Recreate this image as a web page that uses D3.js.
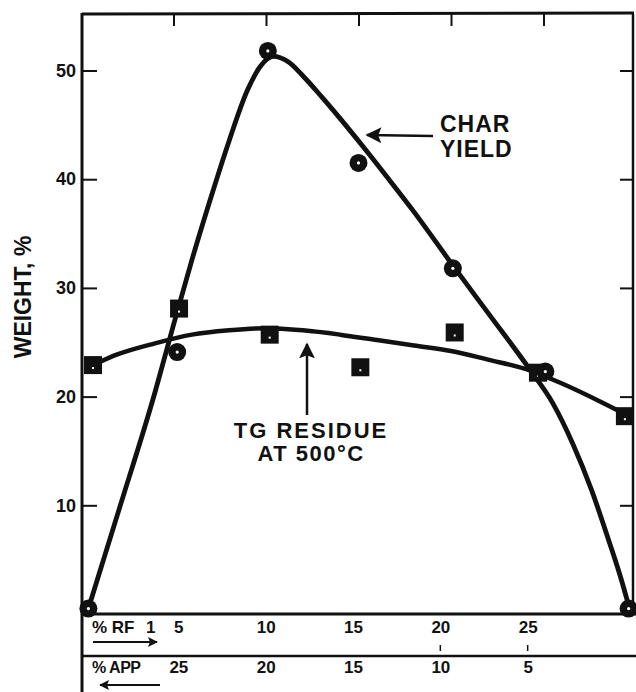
<!DOCTYPE html>
<html>
<head>
<meta charset="utf-8">
<script src="https://cdn.jsdelivr.net/npm/d3@7"></script>
<style>
  body { margin: 0; background: #fff; }
  svg text { font-family: "Liberation Sans", Arial, sans-serif; font-weight: bold; fill: #111; }
</style>
</head>
<body>
<div id="chart"></div>
<script>
// measured points (circles = char yield, squares = TG residue)
var charX = [0.4, 5.2, 10.1, 15.0, 20.1, 25.1, 29.6]
var charY = [0.5, 24.1, 51.8, 41.5, 31.8, 22.3, 0.5]
var tgX = [0.65, 5.3, 10.2, 15.1, 20.2, 24.7, 29.4]
var tgY = [22.9, 28.1, 25.7, 22.7, 25.9, 22.2, 18.2]

// hand drawn fitted curves
var charFitX = [0.4, 2, 4, 5, 6, 7, 8, 9, 9.7, 10.4, 11.2, 12, 13, 14, 15.2, 16.5, 18, 20, 22, 24.3, 25.5, 26.6, 27.6, 28.5, 29.2, 29.6]
var charFitY = [0.5, 9.3, 20.4, 26.6, 32.6, 38.2, 43.5, 48.2, 50.4, 51.3, 50.8, 49.5, 47.6, 45.6, 43.1, 40.3, 37.0, 32.3, 27.7, 22.4, 19.4, 15.6, 11.4, 6.9, 3.2, 0.8]
var tgFitX = [0.65, 2, 4, 6, 8, 10, 12, 14, 16, 18, 20, 22, 24.3, 26, 28, 29.4]
var tgFitY = [22.9, 23.9, 24.9, 25.7, 26.1, 26.3, 26.1, 25.7, 25.2, 24.7, 24.2, 23.4, 22.4, 21.2, 19.6, 18.4]

var yTicks = [10, 20, 30, 40, 50]
var xTicks = [5, 10, 15, 20, 25]
var rfLabels = ["5", "10", "15", "20", "25"]
var appLabels = ["25", "20", "15", "10", "5"]

var W = 636, H = 692
var pl = 82, pr = 633, pt = 14, pb = 614

var svg = d3.select("#chart").append("svg")
  .attr("width", W).attr("height", H)

var x = d3.scaleLinear().domain([0, 30]).range([81, 636])
var y = d3.scaleLinear().domain([0, 55.2]).range([pb, pt])
// the table under the plot was lettered on a slightly narrower spacing
var tableX = d3.scaleLinear().domain([0, 30]).range([91, 615])

// frame
svg.append("line").attr("x1", pl).attr("x2", pl).attr("y1", pt - 1).attr("y2", H)
  .attr("stroke", "#111").attr("stroke-width", 3)
svg.append("line").attr("x1", pl).attr("x2", pr + 1).attr("y1", pt).attr("y2", pt - 1)
  .attr("stroke", "#111").attr("stroke-width", 3)
svg.append("line").attr("x1", pr).attr("x2", pr).attr("y1", pt).attr("y2", pb)
  .attr("stroke", "#111").attr("stroke-width", 2.5)
svg.append("line").attr("x1", pl).attr("x2", W).attr("y1", pb).attr("y2", pb)
  .attr("stroke", "#111").attr("stroke-width", 3)
svg.append("line").attr("x1", pl).attr("x2", W).attr("y1", 656).attr("y2", 656)
  .attr("stroke", "#111").attr("stroke-width", 2.5)

// y axis, ticks inward
var yAxis = svg.append("g")
  .attr("transform", "translate(" + pl + ",0)")
  .call(d3.axisLeft(y).tickValues(yTicks).tickSize(-15).tickPadding(6))
yAxis.select(".domain").remove()
yAxis.selectAll("line").attr("stroke", "#111").attr("stroke-width", 2)
yAxis.selectAll("text").style("font-size", "18px")

// right side ticks
var yAxisR = svg.append("g")
  .attr("transform", "translate(" + pr + ",0)")
  .call(d3.axisRight(y).tickValues(yTicks).tickSize(-13).tickFormat(""))
yAxisR.select(".domain").remove()
yAxisR.selectAll("line").attr("stroke", "#111").attr("stroke-width", 2)

// top ticks
var xTop = svg.append("g")
  .attr("transform", "translate(0," + pt + ")")
  .call(d3.axisTop(x).tickValues(xTicks).tickSize(-12).tickFormat(""))
xTop.select(".domain").remove()
xTop.selectAll("line").attr("stroke", "#111").attr("stroke-width", 2)

// y title
svg.append("text")
  .attr("transform", "translate(31,297) rotate(-90)")
  .attr("text-anchor", "middle")
  .style("font-size", "23px")
  .text("WEIGHT, %")

// curves
var line = d3.line()
  .x(function(d) { return x(d[0]) })
  .y(function(d) { return y(d[1]) })
  .curve(d3.curveMonotoneX)

svg.append("path")
  .datum(tgFitX.map(function(v, i) { return [v, tgFitY[i]] }))
  .attr("d", line)
  .attr("fill", "none").attr("stroke", "#111").attr("stroke-width", 4.5)
  .attr("stroke-linecap", "round")

svg.append("path")
  .datum(charFitX.map(function(v, i) { return [v, charFitY[i]] }))
  .attr("d", line)
  .attr("fill", "none").attr("stroke", "#111").attr("stroke-width", 4.8)
  .attr("stroke-linecap", "round")

// square markers
var sq = 18
svg.selectAll("rect.tg")
  .data(tgX.map(function(v, i) { return [v, tgY[i]] }))
  .enter()
  .append("rect")
    .attr("class", "tg")
    .attr("x", function(d) { return x(d[0]) - sq / 2 })
    .attr("y", function(d) { return y(d[1]) - sq / 2 })
    .attr("width", sq).attr("height", sq)
    .attr("fill", "#111")
svg.selectAll("rect.tgdot")
  .data(tgX.map(function(v, i) { return [v, tgY[i]] }))
  .enter()
  .append("rect")
    .attr("x", function(d) { return x(d[0]) - 1 })
    .attr("y", function(d) { return y(d[1]) + 2 })
    .attr("width", 2).attr("height", 2)
    .attr("fill", "#fff")

// circle markers
svg.selectAll("circle.char")
  .data(charX.map(function(v, i) { return [v, charY[i]] }))
  .enter()
  .append("circle")
    .attr("cx", function(d) { return x(d[0]) })
    .attr("cy", function(d) { return y(d[1]) })
    .attr("r", 9)
    .attr("fill", "#111")
svg.selectAll("circle.chardot")
  .data(charX.map(function(v, i) { return [v, charY[i]] }))
  .enter()
  .append("circle")
    .attr("cx", function(d) { return x(d[0]) })
    .attr("cy", function(d) { return y(d[1]) })
    .attr("r", 1.6)
    .attr("fill", "#fff")

// arrows
var defs = svg.append("defs")
function arrow(x1, y1, x2, y2, w, hs) {
  var id = "h" + Math.round(x1) + "_" + Math.round(y1)
  defs.append("marker")
    .attr("id", id).attr("viewBox", "0 0 10 10")
    .attr("refX", 9).attr("refY", 5)
    .attr("markerWidth", hs).attr("markerHeight", hs)
    .attr("markerUnits", "userSpaceOnUse")
    .attr("orient", "auto")
    .append("path").attr("d", "M0,0 L10,5 L0,10 L2,5 z").attr("fill", "#111")
  svg.append("line")
    .attr("x1", x1).attr("y1", y1).attr("x2", x2).attr("y2", y2)
    .attr("stroke", "#111").attr("stroke-width", w)
    .attr("marker-end", "url(#" + id + ")")
}

arrow(433, 136, 367, 135, 2.5, 16)
arrow(307, 415, 307, 344, 2.5, 16)
arrow(93, 642, 157, 642, 2, 10)
arrow(160, 685, 100, 685, 2, 10)

// annotations
svg.append("text").attr("x", 440).attr("y", 132)
  .style("font-size", "23px").style("letter-spacing", "1px").text("CHAR")
svg.append("text").attr("x", 440).attr("y", 157)
  .style("font-size", "23px").style("letter-spacing", "1px").text("YIELD")
svg.append("text").attr("x", 311).attr("y", 438).attr("text-anchor", "middle")
  .style("font-size", "22px").style("letter-spacing", "2px").text("TG RESIDUE")
svg.append("text").attr("x", 311).attr("y", 461).attr("text-anchor", "middle")
  .style("font-size", "22px").style("letter-spacing", "1.5px").text("AT 500\u00B0C")

// table under the plot
var rfTitle = svg.append("text").attr("x", 92).attr("y", 633).style("font-size", "17px")
rfTitle.append("tspan").text("% RF")
rfTitle.append("tspan").attr("x", 146).text("1")
svg.append("text").attr("x", 92).attr("y", 673)
  .style("font-size", "16px").style("letter-spacing", "-0.5px").text("% APP")

var rfAxis = svg.append("g")
  .attr("transform", "translate(0,621)")
  .call(d3.axisBottom(tableX).tickValues(xTicks).tickSize(0).tickPadding(0)
    .tickFormat(function(d, i) { return rfLabels[i] }))
rfAxis.select(".domain").remove()
rfAxis.selectAll("text").style("font-size", "17px").attr("dy", "0.71em")

var appAxis = svg.append("g")
  .attr("transform", "translate(0,661)")
  .call(d3.axisBottom(tableX).tickValues(xTicks).tickSize(0).tickPadding(0)
    .tickFormat(function(d, i) { return appLabels[i] }))
appAxis.select(".domain").remove()
appAxis.selectAll("text").style("font-size", "17px").attr("dy", "0.71em")

// faint tick remnants between the rows
svg.selectAll("line.mini")
  .data([20, 25])
  .enter()
  .append("line")
    .attr("x1", function(d) { return tableX(d) }).attr("x2", function(d) { return tableX(d) })
    .attr("y1", 645).attr("y2", 651)
    .attr("stroke", "#111").attr("stroke-width", 1.5)
</script>
</body>
</html>
